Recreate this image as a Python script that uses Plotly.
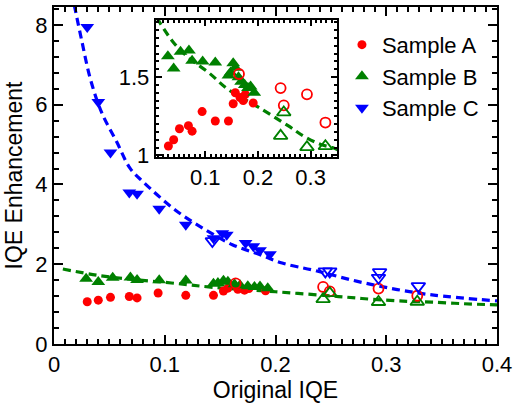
import plotly.graph_objects as go

# ---- Sample A (red circles): filled = measured, open = second set ----
a_x = [0.030, 0.040, 0.051, 0.068, 0.075, 0.094, 0.119, 0.144, 0.153, 0.157, 0.166, 0.172, 0.176, 0.191]
a_y = [1.06, 1.10, 1.17, 1.19, 1.155, 1.28, 1.22, 1.22, 1.33, 1.40, 1.37, 1.35, 1.39, 1.335]
a_open_x = [0.164, 0.243, 0.249, 0.293, 0.328]
a_open_y = [1.52, 1.43, 1.32, 1.39, 1.21]

# ---- Sample B (green up-triangles) ----
b_x = [0.029, 0.040, 0.053, 0.069, 0.075, 0.095, 0.119, 0.144, 0.148, 0.153, 0.157,
       0.163, 0.168, 0.175, 0.181, 0.186, 0.193]
b_y = [1.634, 1.556, 1.662, 1.67, 1.604, 1.60, 1.594, 1.51, 1.53, 1.588, 1.56,
       1.50, 1.47, 1.45, 1.43, 1.44, 1.40]
b_open_x = [0.243, 0.249, 0.293, 0.328]
b_open_y = [1.125, 1.275, 1.053, 1.059]

# ---- Sample C (blue down-triangles) ----
c_x = [0.030, 0.040, 0.051, 0.068, 0.075, 0.095, 0.119, 0.144, 0.152, 0.156,
       0.173, 0.180, 0.186, 0.195]
c_y = [7.95, 6.07, 4.80, 3.80, 3.77, 3.39, 2.99, 2.65, 2.78, 2.74,
       2.53, 2.45, 2.35, 2.25]
c_open_x = [0.143, 0.245, 0.249, 0.294, 0.293, 0.329]
c_open_y = [2.58, 1.82, 1.82, 1.80, 1.66, 1.45]

# ---- fitted trend curves (dashed) ----
fit_b_x = [0.008, 0.040, 0.070, 0.106, 0.144, 0.200, 0.257, 0.288, 0.319, 0.341, 0.370, 0.400]
fit_b_y = [1.88, 1.72, 1.62, 1.53, 1.42, 1.31, 1.19, 1.12, 1.07, 1.05, 1.01, 0.98]
fit_c_x = [0.0183, 0.0251, 0.0327, 0.0431, 0.0566, 0.0686, 0.0799, 0.110, 0.137, 0.161,
           0.185, 0.206, 0.236, 0.274, 0.310, 0.343, 0.400]
fit_c_y = [8.5, 7.6, 6.66, 5.80, 5.07, 4.41, 4.08, 3.35, 2.86, 2.49,
           2.25, 2.03, 1.84, 1.57, 1.365, 1.225, 1.08]

RED, GREEN, BLUE = "#ff0000", "#008000", "#0000ff"
FONT = "Liberation Sans, Arial, Helvetica, sans-serif"
DASH = "8px,5px"

fig = go.Figure()


def line(x, y, color, xa="x", ya="y"):
    fig.add_trace(go.Scatter(x=x, y=y, mode="lines", showlegend=False,
                             line=dict(color=color, width=3.2, dash=DASH,
                                       shape="spline", smoothing=1.0),
                             xaxis=xa, yaxis=ya))


def pts(x, y, color, symbol, size, name=None, open_=False, xa="x", ya="y", rank=None):
    if open_:
        marker = dict(symbol=symbol + "-open", size=size, color=color,
                      line=dict(color=color, width=1.8))
    else:
        marker = dict(symbol=symbol, size=size, color=color, line=dict(width=0))
    fig.add_trace(go.Scatter(x=x, y=y, mode="markers", marker=marker,
                             name=name, showlegend=name is not None,
                             legendrank=rank if rank else 1000,
                             xaxis=xa, yaxis=ya))


# main panel
line(fit_b_x, fit_b_y, GREEN)
line(fit_c_x, fit_c_y, BLUE)
pts(a_x, a_y, RED, "circle", 9, name="Sample A", rank=1)
pts(b_x, b_y, GREEN, "triangle-up", 12, name="Sample B", rank=2)
pts(a_open_x, a_open_y, RED, "circle", 10, open_=True)
pts(b_open_x, b_open_y, GREEN, "triangle-up", 12, open_=True)
pts(c_open_x, c_open_y, BLUE, "triangle-down", 12, open_=True)
pts(c_x, c_y, BLUE, "triangle-down", 12, name="Sample C", rank=3)

# inset panel (Samples A and B, zoomed)
line(fit_b_x, fit_b_y, GREEN, "x2", "y2")
pts(a_x, a_y, RED, "circle", 9, xa="x2", ya="y2")
pts(b_x, b_y, GREEN, "triangle-up", 12, xa="x2", ya="y2")
pts(a_open_x, a_open_y, RED, "circle", 10, open_=True, xa="x2", ya="y2")
pts(b_open_x, b_open_y, GREEN, "triangle-up", 12, open_=True, xa="x2", ya="y2")

axis_common = dict(showline=True, linecolor="black", linewidth=2, mirror="allticks",
                   ticks="inside", tickcolor="black", tickwidth=2,
                   showgrid=False, zeroline=False,
                   tickfont=dict(family=FONT, size=22, color="black"))

fig.update_layout(
    width=517, height=404,
    margin=dict(l=54, r=17, t=5, b=54),
    paper_bgcolor="white", plot_bgcolor="white",
    font=dict(family=FONT, size=23, color="black"),
    xaxis=dict(axis_common, range=[0, 0.4], tick0=0, dtick=0.1, ticklen=9,
               minor=dict(dtick=0.01, ticklen=5, tickwidth=1.5, ticks="inside",
                          tickcolor="black"),
               title=dict(text="Original IQE", font=dict(family=FONT, size=23), standoff=5)),
    yaxis=dict(axis_common, range=[0, 8.45], tick0=0, dtick=2, ticklen=9,
               minor=dict(dtick=0.4, ticklen=5, tickwidth=1.5, ticks="inside",
                          tickcolor="black"),
               title=dict(text="IQE Enhancement", font=dict(family=FONT, size=23), standoff=6)),
    xaxis2=dict(axis_common, domain=[0.2297, 0.6388], anchor="y2",
                range=[0.006, 0.35], tick0=0, dtick=0.1, ticklen=6,
                minor=dict(dtick=0.01, ticklen=3, tickwidth=1.5, ticks="inside",
                           tickcolor="black")),
    yaxis2=dict(axis_common, domain=[0.555, 0.9614], anchor="x2",
                range=[0.99, 1.865], tick0=1, dtick=0.5, ticklen=6,
                minor=dict(dtick=0.05, ticklen=3, tickwidth=1.5, ticks="inside",
                           tickcolor="black")),
    legend=dict(x=0.65, y=0.95, xanchor="left", yanchor="top",
                bgcolor="rgba(0,0,0,0)", borderwidth=0,
                font=dict(family=FONT, size=22, color="black"),
                tracegroupgap=0, itemsizing="trace"),
)

fig.write_html("out.html")
